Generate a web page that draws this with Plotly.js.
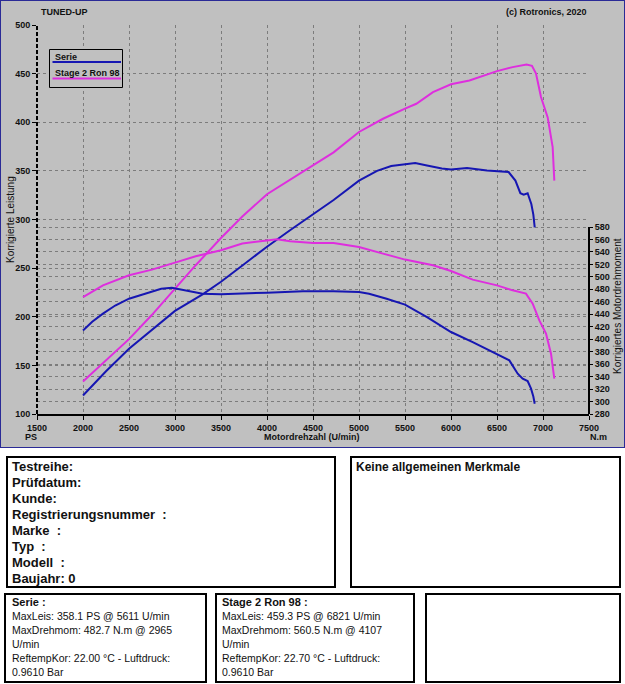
<!DOCTYPE html>
<html>
<head>
<meta charset="utf-8">
<script src="https://cdn.plot.ly/plotly-3.0.1.min.js"></script>
<style>
  html, body { margin:0; padding:0; background:#ffffff; }
  body { width:625px; height:684px; position:relative; overflow:hidden; font-family:"Liberation Sans", Arial, sans-serif; }
  #chart { position:absolute; left:0; top:0; width:625px; height:448px; }
  #frame { position:absolute; left:0; top:0; width:623px; height:446px; border:1px solid #2a2a96; pointer-events:none; }
  .box { position:absolute; border:2px solid #000; box-sizing:border-box; background:#fff; color:#111; white-space:pre; }
  .big { font-weight:bold; font-size:13px; line-height:16px; }
  .small { font-size:10.5px; line-height:13.9px; }
  .small b { font-size:11px; }
</style>
</head>
<body>
<div id="chart"></div>
<div id="frame"></div>

<div class="box big" style="left:6px; top:456px; width:330px; height:132px; padding:1px 0 0 4px;">Testreihe:
Prüfdatum:
Kunde:
Registrierungsnummer  :
Marke  :
Typ  :
Modell  :
Baujahr: 0</div>

<div class="box" style="left:350px; top:456px; width:271px; height:132px; padding:1px 0 0 4px; font-weight:bold; font-size:12px; line-height:16px;">Keine allgemeinen Merkmale</div>

<div class="box small" style="left:4px; top:593px; width:203px; height:90px; padding:1px 0 0 6px;"><b>Serie :</b>
MaxLeis: 358.1 PS @ 5611 U/min
MaxDrehmom: 482.7 N.m @ 2965
U/min
ReftempKor: 22.00 °C - Luftdruck:
0.9610 Bar</div>

<div class="box small" style="left:215px; top:593px; width:200px; height:90px; padding:1px 0 0 5px;"><b>Stage 2 Ron 98 :</b>
MaxLeis: 459.3 PS @ 6821 U/min
MaxDrehmom: 560.5 N.m @ 4107
U/min
ReftempKor: 22.70 °C - Luftdruck:
0.9610 Bar</div>

<div class="box" style="left:425px; top:593px; width:196px; height:90px;"></div>

<script>
// ---------- data ----------
const seriePowerRpm = [2000,2250,2500,2750,3000,3300,3500,3750,4000,4250,4500,4724,5000,5196,5350,5500,5611,5739,5900,6000,6174,6391,6500,6626,6700,6754,6790,6833,6873,6895,6910];
const seriePowerPS  = [119,144,167,187,206,223,236,254,272,289,305,320,340,350,355,357,358.1,355.6,352.5,351.5,352.9,350.5,349.8,348.8,340,327,325.5,327,316,305,292];

const serieTorqueRpm = [2000,2100,2217,2350,2500,2724,2850,2965,3087,3200,3300,3500,3750,4000,4391,4724,5000,5109,5300,5500,5739,6000,6236,6500,6634,6725,6779,6833,6870,6895,6910];
const serieTorqueNm  = [414,428,441,454,465,476,481,482.7,479.5,476,473,472,473,474.7,476.8,477,475.7,473,465,455.4,435.5,411.5,395.4,376.7,366,344.7,336.6,332.8,320.6,308,296.5];

const stagePowerRpm = [2000,2250,2500,2750,3000,3225,3500,3732,4000,4239,4500,4724,5000,5261,5500,5623,5804,6000,6200,6391,6500,6670,6821,6880,6924,6978,7051,7105,7123];
const stagePowerPS  = [133.5,155,177,202,229,253,281,303,326,340,355,369,390,403.6,414,419,431,439,443,449,452.6,456.7,459.3,458,450,426,405,374.5,340];

const stageTorqueRpm = [2000,2217,2500,2750,3000,3225,3500,3732,4000,4107,4250,4500,4724,5000,5261,5500,5804,6000,6236,6500,6670,6815,6888,6960,7033,7087,7123];
const stageTorqueNm  = [467.6,486.4,502.5,511.6,522.8,533,542.6,553.4,558.5,560.5,557,554.5,554.3,548,537.3,527.7,518.5,509.4,495.6,486.4,478.4,473.1,457,430.2,408.9,376.8,336.7];

const seriesNames = ["Serie", "Stage 2 Ron 98"];
const xTickVals = [1500,2000,2500,3000,3500,4000,4500,5000,5500,6000,6500,7000,7500];
const psTickVals = [100,150,200,250,300,350,400,450,500];
const nmTickVals = [280,300,320,340,360,380,400,420,440,460,480,500,520,540,560,580];

// ---------- style ----------
const BLUE = "#1616b2";
const MAGENTA = "#de2ede";
const BG = "#c0c0c0";
const GRID = "#7c7c7c";
const FONT = "Liberation Sans, Arial, sans-serif";

// plot-area pixel geometry helpers (for decorations only)
const W = 625, H = 448;
const PL = 37, PR = 589, PT = 25, PB = 414;
const fx = p => (p - PL) / (PR - PL);
const fy = p => (PB - p) / (PB - PT);
// torque axis occupies the lower part of the plot: 280 at bottom, 580 at pixel row 227
const nmFrac = fy(227);
const nmMin = nmTickVals[0], nmMax = nmTickVals[nmTickVals.length - 1];
const nmRangeTop = nmMin + (nmMax - nmMin) / nmFrac;

const traces = [
  {x: seriePowerRpm, y: seriePowerPS, xaxis:"x", yaxis:"y", mode:"lines", name: seriesNames[0], line:{color:BLUE, width:2}},
  {x: stagePowerRpm, y: stagePowerPS, xaxis:"x", yaxis:"y", mode:"lines", name: seriesNames[1], line:{color:MAGENTA, width:2}},
  {x: serieTorqueRpm, y: serieTorqueNm, xaxis:"x", yaxis:"y2", mode:"lines", name: seriesNames[0], line:{color:BLUE, width:2}},
  {x: stageTorqueRpm, y: stageTorqueNm, xaxis:"x", yaxis:"y2", mode:"lines", name: seriesNames[1], line:{color:MAGENTA, width:2}}
];

const tickFont = {family: FONT, size: 9, color: "#111", weight: "bold"};

const layout = {
  width: W, height: H,
  margin: {l: PL, r: W - PR, t: PT, b: H - PB, pad: 0},
  paper_bgcolor: BG, plot_bgcolor: BG,
  showlegend: false,
  font: {family: FONT, size: 9, color: "#111"},
  xaxis: {
    range: [1500, 7500], tickvals: xTickVals, ticktext: xTickVals.map(String),
    showgrid: true, gridcolor: GRID, griddash: "3px,3px", gridwidth: 1,
    showline: true, linecolor: "#000", linewidth: 2,
    ticks: "outside", ticklen: 4, tickcolor: "#000", tickwidth: 1,
    tickfont: tickFont, zeroline: false, fixedrange: true
  },
  yaxis: {
    range: [100, 500], tickvals: psTickVals, ticktext: psTickVals.map(String),
    showgrid: true, gridcolor: GRID, griddash: "3px,3px", gridwidth: 1,
    showline: false,
    ticks: "outside", ticklen: 4, tickcolor: "#000", tickwidth: 1,
    tickfont: tickFont, zeroline: false, fixedrange: true
  },
  yaxis2: {
    overlaying: "y", anchor: "x", side: "right",
    range: [nmMin, nmRangeTop], tickvals: nmTickVals, ticktext: nmTickVals.map(String),
    showgrid: true, gridcolor: GRID, griddash: "3px,3px", gridwidth: 1,
    showline: false,
    ticks: "outside", ticklen: 3, tickcolor: "#000", tickwidth: 1,
    tickfont: tickFont, zeroline: false, fixedrange: true
  },
  shapes: [
    // dashed left axis line
    {type:"line", xref:"paper", yref:"paper", x0:0, x1:0, y0:0, y1:1, line:{color:"#000", width:2, dash:"4px,2px"}},
    // right torque axis line (only over the torque scale)
    {type:"line", xref:"paper", yref:"paper", x0:1, x1:1, y0:0, y1:nmFrac, line:{color:"#000", width:2}},
    // legend box and samples
    {type:"rect", xref:"paper", yref:"paper", x0:fx(49.5), x1:fx(122.5), y0:fy(87.5), y1:fy(49.5), line:{color:"#000", width:1}, fillcolor: BG},
    {type:"line", xref:"paper", yref:"paper", x0:fx(52.5), x1:fx(121), y0:fy(62), y1:fy(62), line:{color:BLUE, width:2}},
    {type:"line", xref:"paper", yref:"paper", x0:fx(52.5), x1:fx(121), y0:fy(78.5), y1:fy(78.5), line:{color:MAGENTA, width:2}}
  ],
  annotations: [
    {text:"<b>" + seriesNames[0] + "</b>", xref:"paper", yref:"paper", x:fx(52.5), y:fy(57), xanchor:"left", yanchor:"middle", showarrow:false, font:{family:FONT, size:9, color:"#111"}},
    {text:"<b>" + seriesNames[1] + "</b>", xref:"paper", yref:"paper", x:fx(52.5), y:fy(73), xanchor:"left", yanchor:"middle", showarrow:false, font:{family:FONT, size:9, color:"#111"}},
    {text:"<b>TUNED-UP</b>", xref:"paper", yref:"paper", x:fx(39), y:fy(12), xanchor:"left", yanchor:"middle", showarrow:false, font:{family:FONT, size:9, color:"#111"}},
    {text:"<b>(c) Rotronics, 2020</b>", xref:"paper", yref:"paper", x:fx(589), y:fy(12), xanchor:"right", yanchor:"middle", showarrow:false, font:{family:FONT, size:9, color:"#111"}},
    {text:"Korrigierte Leistung", xref:"paper", yref:"paper", x:fx(11), y:fy(220), xanchor:"center", yanchor:"middle", textangle:-90, showarrow:false, font:{family:FONT, size:10, color:"#111"}},
    {text:"Korrigiertes Motordrehmoment", xref:"paper", yref:"paper", x:fx(618), y:fy(306), xanchor:"center", yanchor:"middle", textangle:-90, showarrow:false, font:{family:FONT, size:10, color:"#111"}},
    {text:"<b>PS</b>", xref:"paper", yref:"paper", x:fx(31), y:fy(437), xanchor:"center", yanchor:"middle", showarrow:false, font:{family:FONT, size:9, color:"#111"}},
    {text:"<b>Motordrehzahl (U/min)</b>", xref:"paper", yref:"paper", x:fx(312), y:fy(437), xanchor:"center", yanchor:"middle", showarrow:false, font:{family:FONT, size:9, color:"#111"}},
    {text:"<b>N.m</b>", xref:"paper", yref:"paper", x:fx(598), y:fy(437), xanchor:"center", yanchor:"middle", showarrow:false, font:{family:FONT, size:9, color:"#111"}}
  ]
};

Plotly.newPlot("chart", traces, layout, {displayModeBar:false, staticPlot:true});
</script>
</body>
</html>
